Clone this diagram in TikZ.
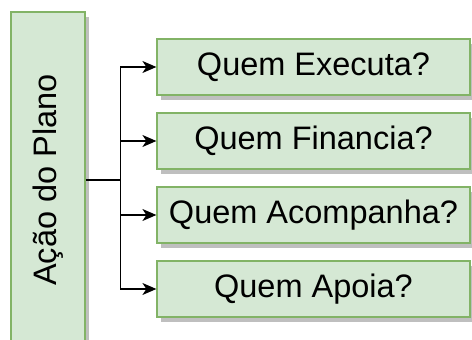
\documentclass[tikz,border=0pt]{standalone}
\usepackage{fontspec}
\setmainfont{Liberation Sans}
\usetikzlibrary{arrows.meta,shadows}
\definecolor{verde}{HTML}{D5E8D4}
\definecolor{verdeborda}{HTML}{82B366}

\begin{document}
\begin{tikzpicture}[x=1pt,y=-1pt,
  caixa/.style={draw=verdeborda, fill=verde, line width=1.2pt, inner sep=0pt,
    drop shadow={shadow xshift=4pt, shadow yshift=-5pt, fill=black!25, opacity=1},
    font=\fontsize{32.5}{39}\selectfont},
  pergunta/.style={caixa, minimum width=313pt, minimum height=56pt},
  seta/.style={line width=1.3pt, -{Stealth[length=14pt,width=12pt,inset=4pt]}}]
\useasboundingbox (0,0) rectangle (472,340);
\clip (0,0) rectangle (472,340);
\node[caixa, minimum width=74pt, minimum height=336pt] (plano) at (48,180) {\rotatebox{90}{Ação do Plano}};
\node[pergunta] (executa) at (313.5,67) {Quem Executa?};
\node[pergunta] (financia) at (313.5,141) {Quem Financia?};
\node[pergunta] (acompanha) at (313.5,215) {Quem Acompanha?};
\node[pergunta] (apoia) at (313.5,289) {Quem Apoia?};
\draw[line width=1.3pt] (plano.east) -- ++(35,0) coordinate (tronco);
\draw[seta] (tronco) |- (executa.west);
\draw[seta] (tronco) |- (financia.west);
\draw[seta] (tronco) |- (acompanha.west);
\draw[seta] (tronco) |- (apoia.west);
\end{tikzpicture}
\end{document}
